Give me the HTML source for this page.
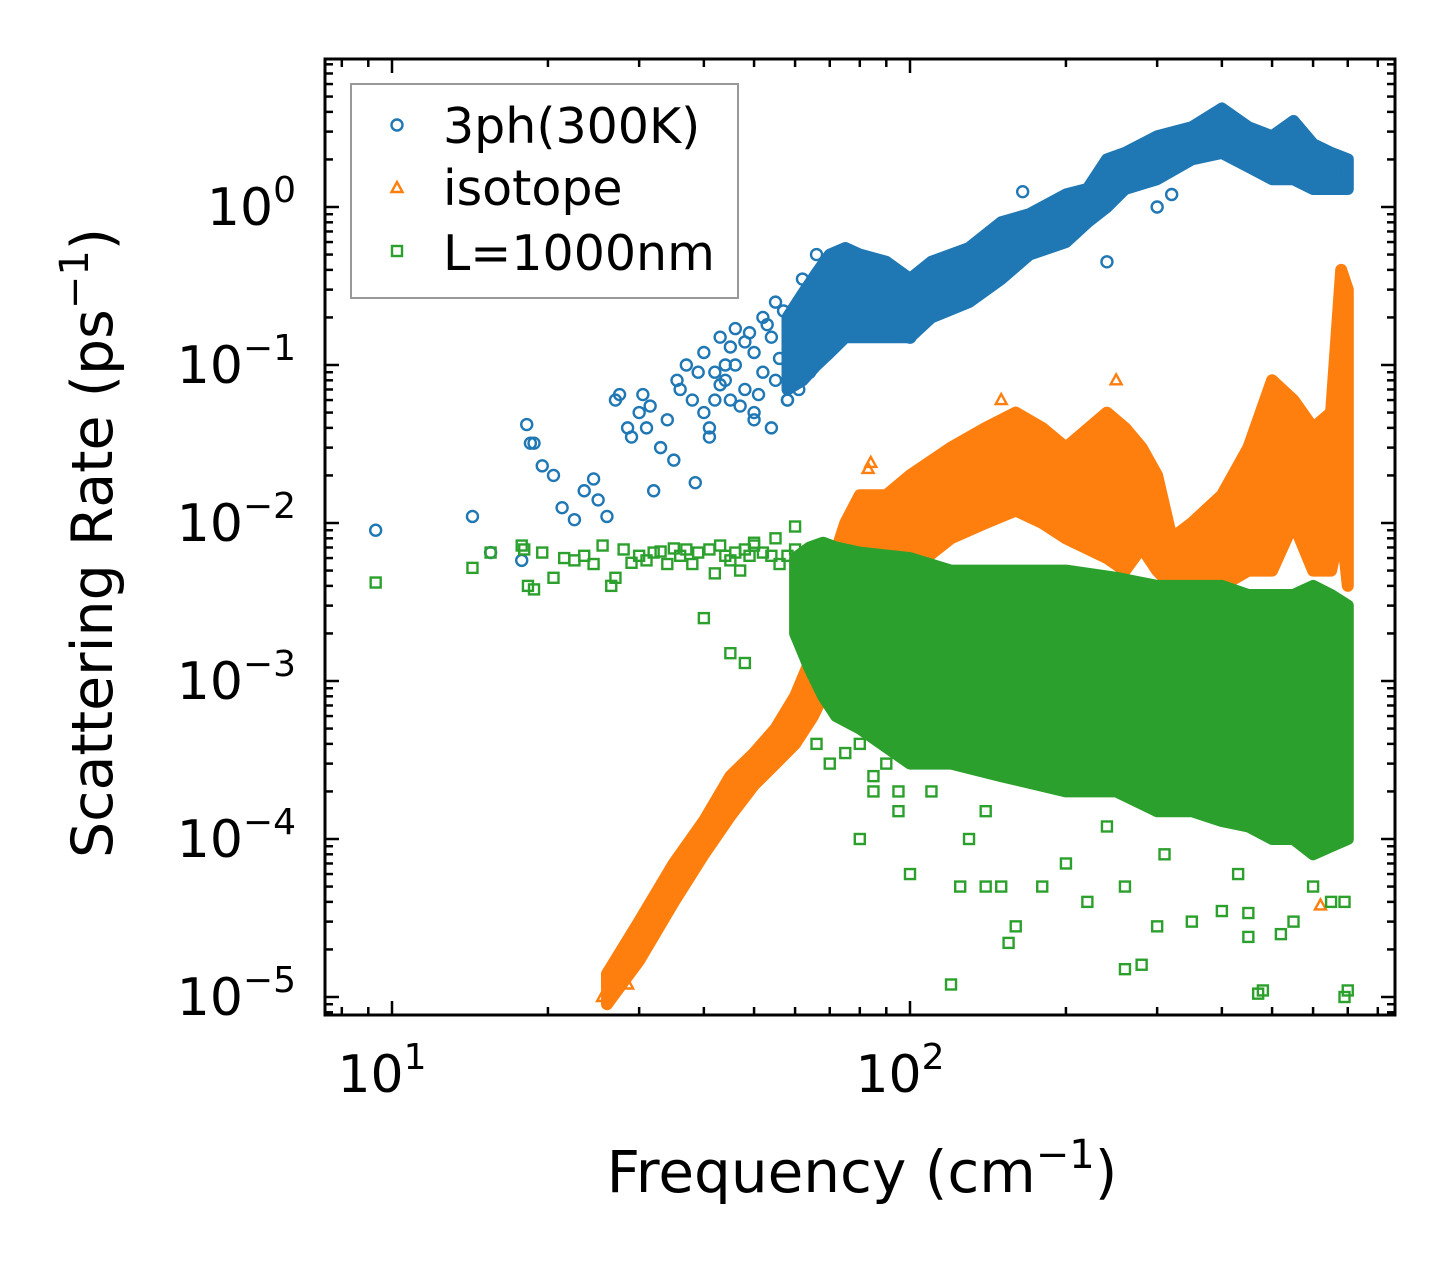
<!DOCTYPE html>
<html><head><meta charset="utf-8"><style>
html,body{margin:0;padding:0;background:#fff;}
svg{display:block;font-family:"DejaVu Sans","Liberation Sans",sans-serif;}
</style></head><body>
<svg id="chart" width="1455" height="1265" viewBox="0 0 1455 1265" xmlns="http://www.w3.org/2000/svg">
<rect width="1455" height="1265" fill="#fff"/>
<g id="bands"></g>
<g id="points"></g>
<g id="axes"></g>
</svg>
<script>
// ---- data ----
const blueBandFreq = [58,62,66,70,75,80,90,100,110,130,150,170,200,220,240,260,300,350,400,450,500,550,600,650,700];
const blueBandLow  = [0.07,0.08,0.1,0.12,0.15,0.15,0.15,0.15,0.2,0.25,0.35,0.5,0.6,0.8,1.0,1.3,1.5,2.0,2.2,1.8,1.5,1.5,1.3,1.3,1.3];
const blueBandHigh = [0.2,0.28,0.38,0.5,0.55,0.5,0.45,0.35,0.45,0.55,0.8,0.9,1.2,1.3,2.0,2.2,2.8,3.2,4.2,3.2,2.8,3.5,2.5,2.2,2.0];
const bluePtsFreq = [9.3,14.3,15.5,17.8,18.2,18.5,18.8,19.5,20.5,21.3,22.5,23.5,24.5,25,26,27,27.5,28.5,29,30,30.5,31,31.5,32,33,34,35,35.5,36,37,38,38.5,39,40,41,42,43,44,45,46,48,50,52,55,58,62,66,165,100,240,300,320,40,42,44,46,48,50,52,54,56,45,47,49,51,53,55,57,60,43,41,50,54,58,61,64];
const bluePtsVal  = [0.009,0.011,0.0065,0.0058,0.042,0.032,0.032,0.023,0.02,0.0125,0.0105,0.016,0.019,0.014,0.011,0.06,0.065,0.04,0.035,0.05,0.065,0.04,0.055,0.016,0.03,0.045,0.025,0.08,0.07,0.1,0.06,0.018,0.09,0.12,0.04,0.09,0.15,0.1,0.06,0.17,0.14,0.05,0.2,0.25,0.06,0.35,0.5,1.25,0.15,0.45,1.0,1.2,0.05,0.06,0.08,0.1,0.07,0.12,0.09,0.15,0.11,0.13,0.055,0.16,0.065,0.18,0.08,0.22,0.1,0.075,0.035,0.045,0.04,0.06,0.07,0.09];

const orangeBandFreq = [26,30,35,40,45,50,55,60,65,70,75,80,90,100,120,140,160,180,200,240,260,280,300,320,350,400,450,500,550,600,650,680,700];
const orangeBandLow  = [9e-6,1.7e-5,4e-5,8e-5,1.4e-4,2.2e-4,3e-4,4e-4,6e-4,1e-3,2.5e-3,4e-3,5e-3,5e-3,8e-3,1e-2,1.2e-2,1e-2,8e-3,6e-3,5e-3,7e-3,5e-3,4e-3,4e-3,4e-3,5e-3,5e-3,1e-2,5e-3,5e-3,1e-2,4e-3];
const orangeBandHigh = [1.4e-5,3e-5,7e-5,1.3e-4,2.5e-4,3.5e-4,5e-4,8e-4,1.5e-3,5e-3,1e-2,1.5e-2,1.5e-2,2e-2,3e-2,4e-2,5e-2,4e-2,3e-2,5e-2,4e-2,3e-2,2e-2,8e-3,1e-2,1.5e-2,3e-2,8e-2,6e-2,4e-2,5e-2,0.4,0.3];
const orangePtsFreq = [25.5,27,28.5,31,33,83,84,95,620,150,250];
const orangePtsVal  = [1.0e-5,1.3e-5,1.2e-5,2.5e-5,3.2e-5,0.022,0.024,0.01,3.8e-5,0.06,0.08];

const greenBandFreq = [60,64,68,72,80,100,120,150,200,250,300,350,400,450,500,550,600,650,700];
const greenBandLow  = [2e-3,1.2e-3,8e-4,6e-4,5e-4,3e-4,3e-4,2.5e-4,2e-4,2e-4,1.5e-4,1.5e-4,1.3e-4,1.2e-4,1e-4,1e-4,8e-5,9e-5,1e-4];
const greenBandHigh = [6e-3,7e-3,7.5e-3,7e-3,6.5e-3,6e-3,5e-3,5e-3,5e-3,4.5e-3,4e-3,4e-3,4e-3,3.5e-3,3.5e-3,3.5e-3,4e-3,3.5e-3,3e-3];
const greenPtsFreq = [9.3,14.3,15.5,17.8,18,18.3,18.8,19.5,20.5,21.5,22.5,23.5,24.5,25.5,26.5,27,28,29,30,31,32,33,34,35,36,37,38,39,40,41,42,43,44,45,46,47,48,49,50,52,54,56,58,60,45,48,50,55,60,80,85,90,95,100,110,120,125,130,140,150,160,180,200,220,240,260,280,300,310,350,400,430,450,480,520,550,600,650,690,700,690,450,470,260,140,155,66,70,75,80,85,90,95];
const greenPtsVal  = [0.0042,0.0052,0.0065,0.0072,0.0068,0.004,0.0038,0.0065,0.0045,0.006,0.0058,0.0062,0.0055,0.0072,0.004,0.0045,0.0068,0.0056,0.0062,0.0058,0.0065,0.0066,0.0055,0.0069,0.0062,0.0068,0.0055,0.0065,0.0025,0.0068,0.0048,0.0072,0.0062,0.0058,0.0065,0.005,0.0068,0.0062,0.0072,0.0065,0.0062,0.0055,0.0062,0.0068,0.0015,0.0013,0.0075,0.008,0.0095,0.0001,0.0002,0.0003,0.00015,0.00006,0.0002,0.000012,0.00005,0.0001,0.00015,0.00005,0.000028,0.00005,0.00007,0.00004,0.00012,0.000015,0.000016,0.000028,0.00008,0.00003,0.000035,0.00006,0.000024,0.000011,0.000025,0.00003,0.00005,0.00004,0.00001,0.000011,0.00004,0.000034,0.0000105,0.00005,0.00005,0.000022,0.0004,0.0003,0.00035,0.0004,0.00025,0.0005,0.0002];

const xTickVals = [10,100];
const xTickLabels = ['1','2'];
const yTickExps = [0,-1,-2,-3,-4,-5];

// ---- axes ----
const L=325,R=1395,T=59,B=1015;
const xDec=518, x10=392;
const yDec=158, y1=207;
function X(f){return x10+(Math.log10(f)-1)*xDec;}
function Y(v){return y1-Math.log10(v)*yDec;}
const NS='http://www.w3.org/2000/svg';
function mk(tag,attrs,parent){const e=document.createElementNS(NS,tag);for(const k in attrs)e.setAttribute(k,attrs[k]);parent.appendChild(e);return e;}
const bands=document.getElementById('bands'),pts=document.getElementById('points'),ax=document.getElementById('axes');
const clip=mk('clipPath',{id:'pc'},document.getElementById('chart'));
mk('rect',{x:L,y:T,width:R-L,height:B-T},clip);
bands.setAttribute('clip-path','url(#pc)');pts.setAttribute('clip-path','url(#pc)');

function band(fr,lo,hi,color,name){
  let d='';
  for(let i=0;i<fr.length;i++)d+=(i?'L':'M')+X(fr[i]).toFixed(1)+' '+Y(hi[i]).toFixed(1);
  for(let i=fr.length-1;i>=0;i--)d+='L'+X(fr[i]).toFixed(1)+' '+Y(lo[i]).toFixed(1);
  const p=mk('path',{d:d+'Z',fill:color,stroke:color,'stroke-width':12,'stroke-linejoin':'round'},bands);
  
  
}
function marker(kind,x,y,color,parent){
  let e;
  if(kind==='c')e=mk('circle',{cx:x,cy:y,r:5.5,fill:'none',stroke:color,'stroke-width':2.4},parent);
  else if(kind==='t')e=mk('path',{d:`M${x} ${y-6}L${x+5.5} ${y+4}L${x-5.5} ${y+4}Z`,fill:'none',stroke:color,'stroke-width':2.4},parent);
  else e=mk('rect',{x:x-5,y:y-5,width:10,height:10,fill:'none',stroke:color,'stroke-width':2.4},parent);
  return e;
}
function scatter(fr,val,kind,color,name){
  for(let i=0;i<fr.length;i++){
    const e=marker(kind,X(fr[i]),Y(val[i]),color,pts);
    
    
  }
}
const BLUE='#1f77b4',ORANGE='#ff7f0e',GREEN='#2ca02c';
band(blueBandFreq,blueBandLow,blueBandHigh,BLUE,'band-3ph');
scatter(bluePtsFreq,bluePtsVal,'c',BLUE,'point-3ph');
band(orangeBandFreq,orangeBandLow,orangeBandHigh,ORANGE,'band-isotope');
scatter(orangePtsFreq,orangePtsVal,'t',ORANGE,'point-isotope');
band(greenBandFreq,greenBandLow,greenBandHigh,GREEN,'band-boundary');
scatter(greenPtsFreq,greenPtsVal,'s',GREEN,'point-boundary');

// frame
const fr=mk('rect',{x:L,y:T,width:R-L,height:B-T,fill:'none',stroke:'#000','stroke-width':3},ax);


for(let d=0;d<3;d++){for(let m=1;m<10;m++){const f=m*Math.pow(10,d);const x=X(f);if(x<L||x>R)continue;const len=m===1?14:8;
  mk('line',{x1:x,y1:B,x2:x,y2:B-len,stroke:'#000','stroke-width':2.5},ax);
  mk('line',{x1:x,y1:T,x2:x,y2:T+len,stroke:'#000','stroke-width':2.5},ax);}}
for(let e=-6;e<=1;e++){for(let m=1;m<10;m++){const v=m*Math.pow(10,e);const y=Y(v);if(y<T||y>B)continue;const len=m===1?14:8;
  mk('line',{x1:L,y1:y,x2:L+len,y2:y,stroke:'#000','stroke-width':2.5},ax);
  mk('line',{x1:R,y1:y,x2:R-len,y2:y,stroke:'#000','stroke-width':2.5},ax);}}
xTickVals.forEach((v,i)=>{
  const t=mk('text',{x:X(v)-10,y:1092,'font-size':52,'text-anchor':'middle'},ax);
  
  
  t.textContent='10';
  const s=mk('tspan',{dy:-23,'font-size':36},t);s.textContent=xTickLabels[i];
});
yTickExps.forEach(e=>{
  const t=mk('text',{x:296,y:Y(Math.pow(10,e))+18,'font-size':52,'text-anchor':'end'},ax);
  
  
  t.textContent='10';
  const s=mk('tspan',{dy:-23,'font-size':36},t);s.textContent=e===0?'0':'\u2212'+(-e);
});
</script>
<svg style="position:absolute;left:0;top:0" width="1455" height="1265">
<text x="862" y="1192" font-size="58" text-anchor="middle" font-family="DejaVu Sans, Liberation Sans, sans-serif">Frequency (cm<tspan dy="-24" font-size="40">−1</tspan><tspan dy="24">)</tspan></text>
<text transform="translate(112,543) rotate(-90)" font-size="57" text-anchor="middle" font-family="DejaVu Sans, Liberation Sans, sans-serif">Scattering Rate (ps<tspan dy="-24" font-size="40">−1</tspan><tspan dy="24">)</tspan></text>
<g>
<rect x="351" y="84" width="387" height="214" fill="#fff" stroke="#999" stroke-width="2"/>
<circle cx="397" cy="125" r="5.5" fill="none" stroke="#1f77b4" stroke-width="2.4"/>
<text x="443" y="143" font-size="49" font-family="DejaVu Sans, Liberation Sans, sans-serif">3ph(300K)</text>
<path d="M397 182L402.5 192L391.5 192Z" fill="none" stroke="#ff7f0e" stroke-width="2.4"/>
<text x="443" y="205" font-size="49" font-family="DejaVu Sans, Liberation Sans, sans-serif">isotope</text>
<rect x="392" y="246" width="10" height="10" fill="none" stroke="#2ca02c" stroke-width="2.4"/>
<text x="443" y="270" font-size="49" font-family="DejaVu Sans, Liberation Sans, sans-serif">L=1000nm</text>
</g>
</svg>
</body></html>
